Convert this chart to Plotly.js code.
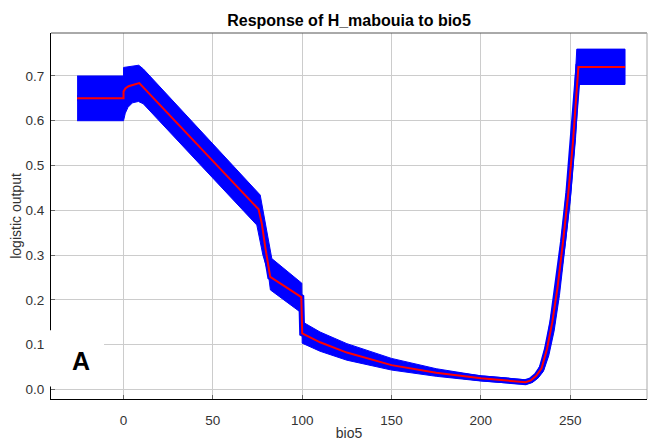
<!DOCTYPE html>
<html>
<head>
<meta charset="utf-8">
<script src="https://cdn.plot.ly/plotly-3.0.1.min.js"></script>
<style>html,body{margin:0;padding:0;background:#fff;}#chart{width:648px;height:441px;}</style>
</head>
<body>
<div id="chart"></div>
<script>
// Mean response (red line)
const meanX = [-26, 0, 0, 1, 2.8, 8.8, 75.6, 77.4, 79.3, 82.1, 99.5, 100, 110, 125, 150, 175, 200, 215, 225, 228, 231, 234, 237, 240, 243, 246, 249, 251.5, 253.5, 254.6, 280.7];
const meanY = [0.65, 0.65, 0.665, 0.672, 0.677, 0.684, 0.402, 0.37, 0.318, 0.251, 0.206, 0.125, 0.105, 0.082, 0.054, 0.037, 0.0245, 0.019, 0.016, 0.02, 0.03, 0.047, 0.09, 0.15, 0.23, 0.33, 0.44, 0.55, 0.66, 0.72, 0.72];

// Upper bound of the band (mean + sd)
const upperX = [-26, 0, 0, 4, 8.5, 11, 76.5, 83, 99.8, 100, 110, 125, 150, 175, 200, 215, 225, 228, 231, 234, 237, 240, 243, 246, 249, 251.5, 253.3, 253.7, 280.7];
const upperY = [0.70, 0.70, 0.719, 0.721, 0.724, 0.716, 0.434, 0.292, 0.237, 0.151, 0.128, 0.102, 0.069, 0.046, 0.030, 0.025, 0.021, 0.024, 0.036, 0.06, 0.11, 0.18, 0.265, 0.37, 0.485, 0.6, 0.72, 0.76, 0.76];

// Lower bound of the band (mean - sd)
const lowerX = [-26, 0, 1, 2.5, 5, 8.3, 11, 74.6, 78, 81, 82.2, 99.8, 100, 110, 125, 150, 175, 200, 215, 222, 226, 229, 232, 235, 238, 241, 244, 247, 250, 253, 254.8, 280.7];
const lowerY = [0.60, 0.60, 0.617, 0.630, 0.640, 0.643, 0.638, 0.367, 0.30, 0.26, 0.222, 0.17, 0.103, 0.085, 0.065, 0.043, 0.029, 0.0185, 0.014, 0.012, 0.012, 0.016, 0.025, 0.04, 0.075, 0.13, 0.21, 0.31, 0.42, 0.56, 0.681, 0.681];

const xTicks = [0, 50, 100, 150, 200, 250];
const yTicks = [0.0, 0.1, 0.2, 0.3, 0.4, 0.5, 0.6, 0.7];

const bandX = upperX.concat(lowerX.slice().reverse());
const bandY = upperY.concat(lowerY.slice().reverse());

const traces = [
  {x: bandX, y: bandY, type: 'scatter', mode: 'lines', fill: 'toself', fillcolor: '#0000ff',
   line: {color: '#0000ff', width: 1}, hoverinfo: 'skip', showlegend: false},
  {x: meanX, y: meanY, type: 'scatter', mode: 'lines', line: {color: '#0000ff', width: 6},
   hoverinfo: 'skip', showlegend: false},
  {x: meanX, y: meanY, type: 'scatter', mode: 'lines', line: {color: '#ff0000', width: 2},
   showlegend: false}
];

const layout = {
  width: 648, height: 441,
  margin: {l: 51, r: 1, t: 33, b: 42},
  paper_bgcolor: '#ffffff', plot_bgcolor: '#ffffff',
  font: {family: 'Liberation Sans, Arial, sans-serif', color: '#333333', size: 13.5},
  title: {text: '<b>Response of H_mabouia to bio5</b>', x: 0.5, xref: 'paper', y: 1 - 20/441, yref: 'container', yanchor: 'middle',
          font: {size: 16, color: '#000000', family: 'Liberation Sans, Arial, sans-serif'}},
  xaxis: {range: [-40.6, 293], tickvals: xTicks, ticktext: xTicks.map(String),
          showgrid: true, gridcolor: '#cccccc', gridwidth: 1, zeroline: false,
          showline: true, linecolor: '#000000', linewidth: 1, mirror: false,
          ticks: 'inside', ticklen: 4, tickcolor: '#666666', ticklabelstandoff: 9,
          title: {text: 'bio5', font: {size: 14, color: '#333333'}, standoff: 1}},
  yaxis: {range: [-0.0217, 0.796], tickvals: yTicks, ticktext: yTicks.map(v => v.toFixed(1)),
          showgrid: true, gridcolor: '#cccccc', gridwidth: 1, zeroline: false,
          showline: true, linecolor: '#000000', linewidth: 1,
          ticks: 'inside', ticklen: 4, tickcolor: '#666666', ticklabelstandoff: 3,
          title: {text: 'logistic output', font: {size: 14, color: '#333333'}, standoff: 0}},
  shapes: [
    {type: 'rect', xref: 'paper', yref: 'paper', x0: -0.01, x1: 0.089, y0: 0.034, y1: 0.188,
     fillcolor: '#ffffff', line: {width: 0}, layer: 'above'},
    {type: 'line', xref: 'paper', yref: 'paper', x0: 0, x1: 1, y0: 1, y1: 1,
     line: {color: '#555555', width: 1}, layer: 'above'},
    {type: 'line', xref: 'paper', yref: 'paper', x0: 1, x1: 1, y0: 0, y1: 1,
     line: {color: '#aaaaaa', width: 1}, layer: 'above'}
  ],
  annotations: [
    {text: '<b>A</b>', xref: 'paper', yref: 'paper', x: 0.05, y: 0.104, xanchor: 'center', yanchor: 'middle',
     showarrow: false, font: {size: 25, color: '#000000', family: 'Liberation Sans, Arial, sans-serif'}}
  ]
};

Plotly.newPlot('chart', traces, layout, {displayModeBar: false, staticPlot: true});
</script>
</body>
</html>
